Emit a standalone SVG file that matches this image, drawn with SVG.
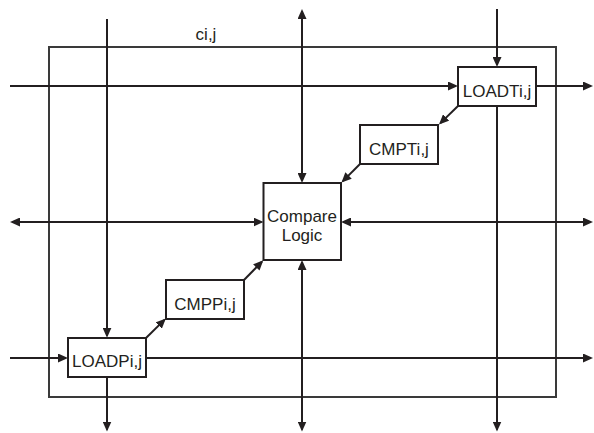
<svg xmlns="http://www.w3.org/2000/svg" width="594" height="433" viewBox="0 0 594 433">
  <style>
    .ln { stroke: #231f20; stroke-width: 2; fill: none; }
    .box { stroke: #231f20; stroke-width: 2; fill: #ffffff; }
    .frame { stroke: #3a3a3a; stroke-width: 2; fill: none; }
    .t { font-family: "Liberation Sans", Arial, sans-serif; font-size: 17px; fill: #231f20; text-anchor: middle; }
  </style>
  <defs>
    <marker id="arr" viewBox="0 0 10 10" markerWidth="10" markerHeight="9" refX="8" refY="5" orient="auto-start-reverse" markerUnits="userSpaceOnUse" preserveAspectRatio="none">
      <path d="M0,0 L10,5 L0,10 z" fill="#231f20"/>
    </marker>
  </defs>
  <rect width="594" height="433" fill="#ffffff"/>
  <g id="cell">
    <rect class="frame" x="49" y="47" width="507" height="350"/>
    <text class="t" x="206" y="40">ci,j</text>
  </g>
  <g id="connectors">
    <line class="ln" x1="107" y1="19" x2="107" y2="335.7" marker-end="url(#arr)"/>
    <line class="ln" x1="107" y1="377" x2="107" y2="429.5" marker-end="url(#arr)"/>
    <line class="ln" x1="497" y1="9" x2="497" y2="65" marker-end="url(#arr)"/>
    <line class="ln" x1="497" y1="106" x2="497" y2="429.5" marker-end="url(#arr)"/>
    <line class="ln" x1="302" y1="11" x2="302" y2="181" marker-start="url(#arr)" marker-end="url(#arr)"/>
    <line class="ln" x1="302" y1="262" x2="302" y2="429.5" marker-start="url(#arr)" marker-end="url(#arr)"/>
    <line class="ln" x1="10" y1="86" x2="456" y2="86" marker-end="url(#arr)"/>
    <line class="ln" x1="536" y1="86" x2="591" y2="86" marker-end="url(#arr)"/>
    <line class="ln" x1="12" y1="222" x2="261.5" y2="222" marker-start="url(#arr)" marker-end="url(#arr)"/>
    <line class="ln" x1="343" y1="222" x2="591" y2="222" marker-start="url(#arr)" marker-end="url(#arr)"/>
    <line class="ln" x1="10" y1="358" x2="66" y2="358" marker-end="url(#arr)"/>
    <line class="ln" x1="146" y1="358" x2="591" y2="358" marker-end="url(#arr)"/>
    <line class="ln" x1="458" y1="106" x2="440.4" y2="123.1" marker-end="url(#arr)"/>
    <line class="ln" x1="360" y1="164" x2="342.9" y2="181.1" marker-end="url(#arr)"/>
    <line class="ln" x1="146" y1="338" x2="164.4" y2="319.9" marker-end="url(#arr)"/>
    <line class="ln" x1="244" y1="280" x2="261.9" y2="261.7" marker-end="url(#arr)"/>
  </g>
  <g id="loadt">
    <rect class="box" x="458" y="67" width="78" height="39"/>
    <text class="t" x="497" y="97">LOADTi,j</text>
  </g>
  <g id="cmpt">
    <rect class="box" x="360" y="125" width="78" height="39"/>
    <text class="t" x="399" y="155">CMPTi,j</text>
  </g>
  <g id="compare">
    <rect class="box" x="263.5" y="183" width="77.5" height="77"/>
    <text class="t" x="302" y="222">Compare</text>
    <text class="t" x="302" y="240.5">Logic</text>
  </g>
  <g id="cmpp">
    <rect class="box" x="166" y="280" width="78" height="39"/>
    <text class="t" x="205" y="309.5">CMPPi,j</text>
  </g>
  <g id="loadp">
    <rect class="box" x="68" y="338" width="78" height="39"/>
    <text class="t" x="107" y="367">LOADPi,j</text>
  </g>
</svg>
